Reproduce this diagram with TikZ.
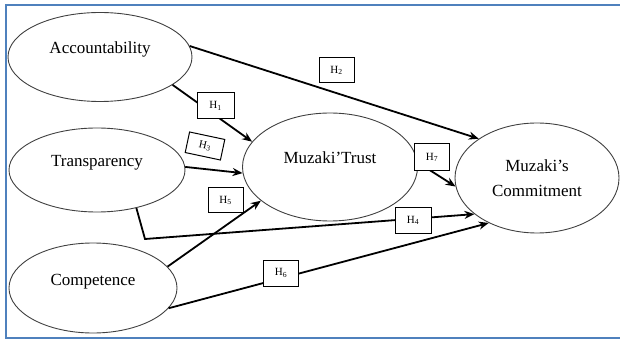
\documentclass[tikz,border=0pt]{standalone}
\usepackage{fontspec}
\setmainfont{Liberation Serif}
\usetikzlibrary{arrows.meta,shapes.geometric}
\definecolor{frameblue}{RGB}{79,129,189}

\begin{document}
\begin{tikzpicture}[
  x=1pt, y=1pt,
  font=\fontsize{17}{25}\selectfont,
  construct/.style={draw=black!75, ellipse, line width=0.9pt, inner sep=0pt, align=center},
  raised/.style={text height=12pt, text depth=18pt},
  hyp/.style={draw, fill=white, line width=1pt, inner sep=0pt, minimum width=35pt, minimum height=25pt, font=\fontsize{11}{13}\selectfont},
  arr/.style={-{Stealth[length=10pt,width=8pt]}, line width=1.8pt}
]
\useasboundingbox (0,0) rectangle (620,340);

% frame
\draw[frameblue, line width=2.5pt] (630,335) -- (6,335) -- (6,2) -- (630,2);

% nodes
\node[construct, raised, minimum width=184pt, minimum height=89pt] (acc) at (100,283) {Accountability};
\node[construct, raised, minimum width=176pt, minimum height=84pt] (trans) at (97,170) {Transparency};
\node[construct, raised, minimum width=168pt, minimum height=90pt] (comp) at (93,52) {Competence};
\node[construct, raised, minimum width=175pt, minimum height=108pt] (trust) at (330,173) {Muzaki'Trust};
\node[construct, minimum width=164pt, minimum height=110pt] (comm) at (537,162) {Muzaki's\\Commitment};
\coordinate (bend) at (145,101);

% arrows
\draw[arr] (acc.7) -- (comm.146);
\draw[arr] (acc.-21) -- (trust.162);
\draw[arr] (trans.2) -- (trust.184);
\draw[arr] (trans.-44) -- (bend) -- (comm.210);
\draw[arr] (comp.16) -- (trust.206);
\draw[arr] (comp.-15) -- (comm.223);
\draw[arr] (trust.3) -- (comm.186);

% hypothesis labels
\node[hyp, minimum width=37pt, minimum height=26pt] (h1) at (215.5,234) {H\textsubscript{1}};
\node[hyp] (h2) at (336.5,269.5) {H\textsubscript{2}};
\node[hyp, rotate=-12, minimum width=36pt, minimum height=21pt] (h3) at (205,194) {H\textsubscript{3}};
\node[hyp, minimum width=36pt] (h4) at (413,119.5) {H\textsubscript{4}};
\node[hyp] (h5) at (225.5,139.5) {H\textsubscript{5}};
\node[hyp, minimum height=26pt] (h6) at (281,67) {H\textsubscript{6}};
\node[hyp, minimum height=27pt] (h7) at (432,182.5) {H\textsubscript{7}};

\end{tikzpicture}
\end{document}
